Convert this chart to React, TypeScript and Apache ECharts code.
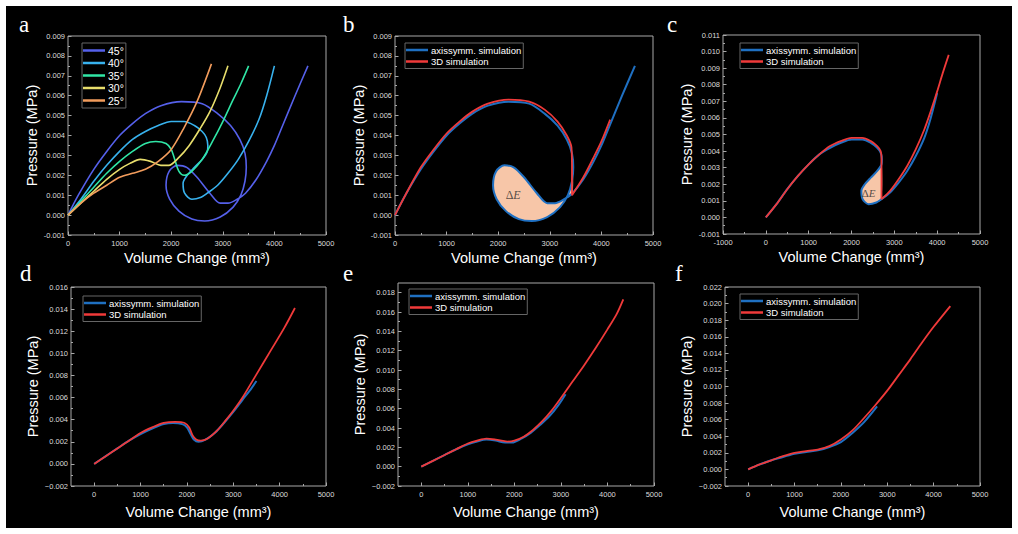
import React, { useEffect, useRef } from "react";
import * as echarts from "echarts";

type Pt = [number, number];

// Axisymmetric simulation curves, volume change (mm³) vs pressure (MPa), by cone angle
const axi45: Pt[] = [
  [0, 0], [200, 0.001], [500, 0.0023], [750, 0.0032], [1000, 0.004], [1250, 0.0046],
  [1500, 0.0051], [1800, 0.0055], [2200, 0.0057], [2600, 0.0056], [2900, 0.0051],
  [3150, 0.0045], [3330, 0.0038], [3430, 0.0031], [3455, 0.0024], [3430, 0.0017],
  [3350, 0.001], [3200, 0.0004], [2950, -0.0001], [2650, -0.0003], [2400, -0.0002],
  [2150, 0.0002], [1970, 0.0008], [1900, 0.0015], [1960, 0.0022], [2120, 0.0025],
  [2300, 0.0024], [2500, 0.0019], [2750, 0.0011], [2950, 0.0006], [3100, 0.0006],
  [3280, 0.0008], [3440, 0.0011], [3650, 0.0018], [3850, 0.0027], [4000, 0.0035],
  [4160, 0.0045], [4400, 0.006], [4650, 0.0075],
];
const axi40: Pt[] = [
  [0, 0], [250, 0.0008], [500, 0.0017], [750, 0.0025], [1000, 0.0032], [1250, 0.0038],
  [1500, 0.0042], [1750, 0.0045], [2000, 0.0047], [2250, 0.0047], [2450, 0.0045],
  [2600, 0.0042], [2680, 0.0039], [2710, 0.0035], [2700, 0.0032], [2600, 0.0028],
  [2450, 0.0024], [2310, 0.002], [2230, 0.0016], [2260, 0.0011], [2400, 0.0008],
  [2580, 0.0009], [2700, 0.0011], [2900, 0.0015], [3100, 0.0021], [3300, 0.0028],
  [3500, 0.0037], [3700, 0.0048], [3850, 0.006], [4000, 0.0075],
];
const axi35: Pt[] = [
  [0, 0], [250, 0.0007], [500, 0.0014], [750, 0.0021], [1000, 0.0027], [1250, 0.0032],
  [1500, 0.0036], [1700, 0.0037], [1900, 0.0036], [2000, 0.0033], [2080, 0.0027],
  [2150, 0.0022], [2250, 0.002], [2400, 0.0022], [2600, 0.0028], [2800, 0.0037],
  [3000, 0.0047], [3200, 0.0058], [3350, 0.0066], [3500, 0.0075],
];
const axi30: Pt[] = [
  [0, 0], [250, 0.0006], [500, 0.0012], [750, 0.0018], [1000, 0.0023], [1200, 0.0026],
  [1400, 0.0028], [1600, 0.0027], [1800, 0.0025], [1950, 0.0025], [2150, 0.0029],
  [2350, 0.0035], [2550, 0.0043], [2750, 0.0052], [2950, 0.0064], [3100, 0.0075],
];
const axi25: Pt[] = [
  [0, 0], [250, 0.0006], [500, 0.0011], [750, 0.0015], [1000, 0.0019], [1250, 0.0021],
  [1500, 0.0023], [1750, 0.0027], [2000, 0.0033], [2250, 0.0044], [2500, 0.0057],
  [2780, 0.0076],
];

// 3D simulation curves
const sim3d45: Pt[] = [
  [0, 0], [200, 0.001], [500, 0.0024], [750, 0.0033], [1000, 0.0041], [1250, 0.0047],
  [1500, 0.0052], [1800, 0.0056], [2200, 0.0058], [2600, 0.0057], [2900, 0.0053],
  [3150, 0.0047], [3330, 0.004], [3420, 0.0034], [3430, 0.0022], [3430, 0.001],
  [3650, 0.0019], [3850, 0.0029], [4000, 0.0037], [4170, 0.0048],
];
const sim3d40: Pt[] = [
  [0, 0], [250, 0.0008], [500, 0.0017], [750, 0.0025], [1000, 0.0032], [1250, 0.0038],
  [1500, 0.0043], [1750, 0.0046], [2000, 0.0048], [2250, 0.0048], [2450, 0.0046],
  [2600, 0.0043], [2680, 0.004], [2700, 0.0036], [2700, 0.0024], [2700, 0.0011],
  [2900, 0.0016], [3100, 0.0023], [3300, 0.0031], [3500, 0.0041], [3700, 0.0053],
  [3850, 0.0064], [4000, 0.0076], [4130, 0.0087], [4270, 0.0098],
];
const sim3d35: Pt[] = [
  [0, 0], [250, 0.0007], [500, 0.0014], [750, 0.0021], [1000, 0.0028], [1250, 0.0033],
  [1500, 0.0037], [1750, 0.0038], [1950, 0.0037], [2050, 0.0033], [2120, 0.0026],
  [2200, 0.0022], [2300, 0.0021], [2450, 0.0023], [2650, 0.003], [2850, 0.004],
  [3000, 0.0048], [3200, 0.006], [3500, 0.0081], [3800, 0.0102], [4100, 0.0123],
  [4330, 0.0141],
];
const sim3d30: Pt[] = [
  [0, 0], [250, 0.0006], [500, 0.0012], [750, 0.0018], [1000, 0.0024], [1200, 0.0027],
  [1400, 0.0029], [1600, 0.0028], [1850, 0.0026], [2000, 0.0027], [2200, 0.0031],
  [2400, 0.0038], [2600, 0.0047], [2800, 0.0058], [3000, 0.0071], [3250, 0.0088],
  [3500, 0.0105], [3750, 0.0123], [4000, 0.0142], [4200, 0.0158], [4340, 0.0173],
];
const sim3d25: Pt[] = [
  [0, 0], [250, 0.0006], [500, 0.0011], [750, 0.0016], [1000, 0.002], [1250, 0.0022],
  [1500, 0.0024], [1750, 0.0028], [2000, 0.0036], [2250, 0.0047], [2500, 0.0062],
  [2750, 0.0078], [3000, 0.0095], [3250, 0.0114], [3500, 0.0133], [3750, 0.0153],
  [4000, 0.0172], [4360, 0.0197],
];

// Enclosed snap-through loops (energy ΔE), taken from the axisymmetric curves
const lossLoop45: Pt[] = axi45.slice(13, 33);
const lossLoop40: Pt[] = axi40.slice(13, 23);
const deltaEAt45: Pt = [2290, 0.001];
const deltaEAt40: Pt = [2400, 0.0015];

const angleNames = ["45°", "40°", "35°", "30°", "25°"];
const angleCurves = [axi45, axi40, axi35, axi30, axi25];
const compareNames = ["axissymm. simulation", "3D simulation"];

// Tick values
const xTicks = [0, 1000, 2000, 3000, 4000, 5000];
const xTicksWide = [-1000, 0, 1000, 2000, 3000, 4000, 5000];
const yTicks9 = [-0.001, 0, 0.001, 0.002, 0.003, 0.004, 0.005, 0.006, 0.007, 0.008, 0.009];
const yTicks11 = [-0.001, 0, 0.001, 0.002, 0.003, 0.004, 0.005, 0.006, 0.007, 0.008, 0.009, 0.01, 0.011];
const yTicks16 = [-0.002, 0, 0.002, 0.004, 0.006, 0.008, 0.01, 0.012, 0.014, 0.016];
const yTicks18 = [-0.002, 0, 0.002, 0.004, 0.006, 0.008, 0.01, 0.012, 0.014, 0.016, 0.018];
const yTicks22 = [-0.002, 0, 0.002, 0.004, 0.006, 0.008, 0.01, 0.012, 0.014, 0.016, 0.018, 0.02, 0.022];

const angleColors = ["#5560ea", "#38b2ee", "#30e6a6", "#e8de6c", "#f29c5c"];
const axiColor = "#1f70c2";
const simColor = "#f03a3a";
const fillColor = "#f7c6a8";
const frameColor = "#a8a8a8";
const tickTextColor = "#dcdcdc";
const sans = '"Liberation Sans", Arial, sans-serif';
const serif = '"Liberation Serif", "Times New Roman", serif';

const midpoints = (v: number[]) => v.slice(1).map((b, k) => (b + v[k]) / 2);

interface Panel {
  letter: string;
  letterX: number;
  letterY: number;
  grid: { left: number; top: number; width: number; height: number };
  xRange: [number, number];
  xMajor: number[];
  xMinor: number[];
  yRange: [number, number];
  yMajor: number[];
  yMinor: number[];
  minus: string;
  xGap: number;
  yGap: number;
  legend: { left: number; top: number };
}

const panels: Panel[] = [
  {
    letter: "a", letterX: 19, letterY: 24,
    grid: { left: 68, top: 36, width: 258, height: 199 },
    xRange: [0, 5000], xMajor: xTicks, xMinor: midpoints(xTicks),
    yRange: [-0.001, 0.009], yMajor: yTicks9, yMinor: midpoints(yTicks9),
    minus: "-", xGap: 15, yGap: 27, legend: { left: 82, top: 43 },
  },
  {
    letter: "b", letterX: 343, letterY: 24,
    grid: { left: 395, top: 36, width: 258, height: 199 },
    xRange: [0, 5000], xMajor: xTicks, xMinor: midpoints(xTicks),
    yRange: [-0.001, 0.009], yMajor: yTicks9, yMinor: midpoints(yTicks9),
    minus: "-", xGap: 15, yGap: 27, legend: { left: 405, top: 43 },
  },
  {
    letter: "c", letterX: 667, letterY: 24,
    grid: { left: 723, top: 35, width: 257, height: 199 },
    xRange: [-1000, 5000], xMajor: xTicksWide, xMinor: midpoints(xTicksWide),
    yRange: [-0.001, 0.011], yMajor: yTicks11, yMinor: midpoints(yTicks11),
    minus: "-", xGap: 15, yGap: 28, legend: { left: 740, top: 43 },
  },
  {
    letter: "d", letterX: 20, letterY: 273,
    grid: { left: 71, top: 287, width: 255, height: 199 },
    xRange: [-500, 5000], xMajor: xTicks, xMinor: midpoints(xTicks),
    yRange: [-0.002, 0.016], yMajor: yTicks16, yMinor: midpoints(yTicks16),
    minus: "\u2212", xGap: 18, yGap: 30, legend: { left: 83, top: 296 },
  },
  {
    letter: "e", letterX: 343, letterY: 273,
    grid: { left: 398, top: 283, width: 256, height: 203 },
    xRange: [-500, 5000], xMajor: xTicks, xMinor: midpoints(xTicks),
    yRange: [-0.002, 0.019], yMajor: yTicks18, yMinor: midpoints(yTicks18),
    minus: "\u2212", xGap: 18, yGap: 30, legend: { left: 409, top: 289 },
  },
  {
    letter: "f", letterX: 675, letterY: 273,
    grid: { left: 725, top: 287, width: 255, height: 199 },
    xRange: [-500, 5000], xMajor: xTicks, xMinor: midpoints(xTicks),
    yRange: [-0.002, 0.022], yMajor: yTicks22, yMinor: midpoints(yTicks22),
    minus: "\u2212", xGap: 18, yGap: 30, legend: { left: 740, top: 294 },
  },
];

function lineSeries(name: string, data: Pt[], color: string, panel: number, width: number, z: number) {
  return {
    type: "line",
    name,
    data,
    xAxisIndex: panel * 2,
    yAxisIndex: panel * 2,
    color,
    itemStyle: { color },
    lineStyle: { color, width },
    symbol: "none",
    showSymbol: false,
    smooth: 0.3,
    z,
    silent: true,
  };
}

function loopFill(region: Pt[], panel: number) {
  return {
    type: "custom",
    xAxisIndex: panel * 2,
    yAxisIndex: panel * 2,
    data: region,
    z: 1,
    silent: true,
    renderItem: (params: any, api: any) => {
      if (params.dataIndex !== 0) return null;
      const points = region.map((p) => api.coord(p));
      return {
        type: "polygon",
        shape: { points, smooth: 0.3 },
        style: { fill: fillColor, stroke: null },
      };
    },
  };
}

function deltaELabel(at: Pt, panel: number, size: number) {
  return {
    type: "scatter",
    xAxisIndex: panel * 2,
    yAxisIndex: panel * 2,
    data: [at],
    symbolSize: 1,
    itemStyle: { color: "transparent" },
    z: 5,
    silent: true,
    label: {
      show: true,
      position: "inside",
      formatter: "{d|Δ}{e|E}",
      rich: {
        d: { fontFamily: serif, fontSize: size, color: "#2a2a2a" },
        e: { fontFamily: serif, fontSize: size, fontStyle: "italic", color: "#2a2a2a" },
      },
    },
  };
}

function buildOption() {
  const grid: any[] = [];
  const xAxis: any[] = [];
  const yAxis: any[] = [];
  const legend: any[] = [];
  const letters: any[] = [];

  panels.forEach((p, i) => {
    grid.push({ ...p.grid, show: true, borderColor: frameColor, borderWidth: 1, backgroundColor: "transparent", containLabel: false });
    const fmtX = (v: number) => (v < 0 ? p.minus + Math.abs(v) : String(v));
    const fmtY = (v: number) => (v < -1e-9 ? p.minus : "") + Math.abs(v).toFixed(3);
    const hiddenLine = { show: false, onZero: false };
    xAxis.push({
      type: "value", gridIndex: i, position: "bottom", min: p.xRange[0], max: p.xRange[1],
      axisLine: hiddenLine,
      axisTick: { show: true, inside: true, length: 3.5, customValues: p.xMajor, lineStyle: { color: frameColor, width: 1 } },
      axisLabel: { show: true, customValues: p.xMajor, color: tickTextColor, fontSize: 7.5, fontFamily: sans, margin: 4, formatter: fmtX },
      splitLine: { show: false },
      name: "Volume Change (mm³)", nameLocation: "middle", nameGap: p.xGap,
      nameTextStyle: { color: "#ffffff", fontSize: 14.5, fontFamily: sans },
    });
    xAxis.push({
      type: "value", gridIndex: i, position: "bottom", min: p.xRange[0], max: p.xRange[1],
      axisLine: hiddenLine,
      axisTick: { show: true, inside: true, length: 2, customValues: p.xMinor, lineStyle: { color: frameColor, width: 1 } },
      axisLabel: { show: false },
      splitLine: { show: false },
    });
    yAxis.push({
      type: "value", gridIndex: i, position: "left", min: p.yRange[0], max: p.yRange[1],
      axisLine: hiddenLine,
      axisTick: { show: true, inside: true, length: 3.5, customValues: p.yMajor, lineStyle: { color: frameColor, width: 1 } },
      axisLabel: { show: true, customValues: p.yMajor, color: tickTextColor, fontSize: 7.5, fontFamily: sans, margin: 3, formatter: fmtY },
      splitLine: { show: false },
      name: "Pressure (MPa)", nameLocation: "middle", nameRotate: 90, nameGap: p.yGap,
      nameTextStyle: { color: "#ffffff", fontSize: 14.5, fontFamily: sans },
    });
    yAxis.push({
      type: "value", gridIndex: i, position: "left", min: p.yRange[0], max: p.yRange[1],
      axisLine: hiddenLine,
      axisTick: { show: true, inside: true, length: 2, customValues: p.yMinor, lineStyle: { color: frameColor, width: 1 } },
      axisLabel: { show: false },
      splitLine: { show: false },
    });
    legend.push({
      orient: "vertical",
      left: p.legend.left,
      top: p.legend.top,
      data: i === 0 ? angleNames : compareNames,
      icon: "rect",
      itemWidth: 22,
      itemHeight: 2.5,
      itemGap: 1.5,
      padding: [2, 2, 2, 1],
      borderColor: "#666666",
      borderWidth: 1,
      backgroundColor: "#000000",
      selectedMode: false,
      lineStyle: { width: 2.5 },
      textStyle: { color: "#ffffff", fontSize: i === 0 ? 10.5 : 9.5, fontFamily: sans, lineHeight: 10, padding: [0, 0, 0, -2] },
    });
    letters.push({
      type: "text",
      x: p.letterX,
      y: p.letterY,
      silent: true,
      style: { text: p.letter, fill: "#ffffff", fontSize: 23, fontFamily: serif, align: "left", verticalAlign: "middle" },
    });
  });

  const series: any[] = [];
  angleCurves.forEach((curve, k) => {
    series.push(lineSeries(angleNames[k], curve, angleColors[k], 0, 1.6, 2 + k));
  });
  series.push(loopFill(lossLoop45, 1));
  series.push(loopFill(lossLoop40, 2));
  const pairs: [Pt[], Pt[]][] = [
    [axi45, sim3d45],
    [axi40, sim3d40],
    [axi35, sim3d35],
    [axi30, sim3d30],
    [axi25, sim3d25],
  ];
  pairs.forEach(([axi, sim], k) => {
    series.push(lineSeries(compareNames[0], axi, axiColor, k + 1, 2, 2));
    series.push(lineSeries(compareNames[1], sim, simColor, k + 1, 1.8, 3));
  });
  series.push(deltaELabel(deltaEAt45, 1, 12));
  series.push(deltaELabel(deltaEAt40, 2, 11));

  return {
    animation: false,
    backgroundColor: "#ffffff",
    graphic: {
      elements: [
        { type: "rect", z: -10, silent: true, shape: { x: 6, y: 6, width: 1006, height: 522 }, style: { fill: "#000000" } },
        ...letters,
      ],
    },
    grid,
    xAxis,
    yAxis,
    legend,
    series,
  };
}

export default function App() {
  const ref = useRef<HTMLDivElement>(null);
  useEffect(() => {
    if (!ref.current) return;
    const chart = echarts.init(ref.current, undefined, { renderer: "svg" });
    chart.setOption(buildOption() as any);
    return () => chart.dispose();
  }, []);
  return <div ref={ref} style={{ position: "absolute", left: 0, top: 0, width: 1018, height: 534 }} />;
}
